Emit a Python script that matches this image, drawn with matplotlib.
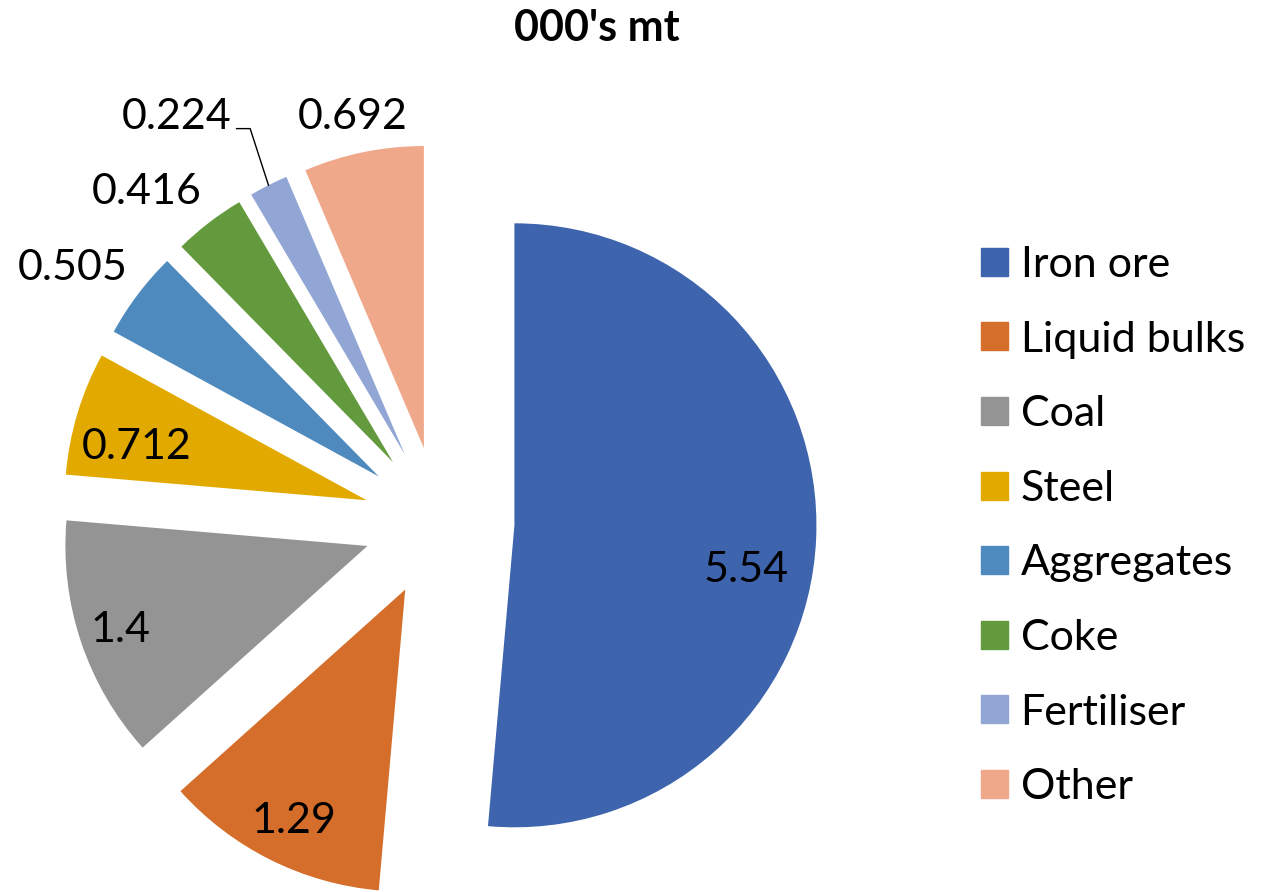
import matplotlib
matplotlib.use("Agg")
import matplotlib.pyplot as plt
import numpy as np

categories = ["Iron ore", "Liquid bulks", "Coal", "Steel", "Aggregates", "Coke", "Fertiliser", "Other"]
values = [5.54, 1.29, 1.4, 0.712, 0.505, 0.416, 0.224, 0.692]
value_labels = ["5.54", "1.29", "1.4", "0.712", "0.505", "0.416", "0.224", "0.692"]
title = "000's mt"

colors = ["#3D64AD", "#D46E2A", "#949494", "#E2AA00", "#4E8ABE", "#629A3D", "#91A6D4", "#F0A88A"]
# label placement: distance from pie centre (in radii) and angle tweak (deg)
label_dist = [1.03, 1.10, 1.115, 1.03, 1.475, 1.46, 1.60, 1.37]
label_dang = [-6.4, 0.7, 0.2, 2.8, 2.3, 4.0, 6.1, 0.5]

plt.rcParams['font.family'] = ['Lato', 'DejaVu Sans']
FS = 31

fig = plt.figure(figsize=(12.72, 8.92), dpi=100)
W, H = 1272, 892
R = 302.0
cx, cy = 439.0, 522.0
xmin, xmax = -cx / R, (W - cx) / R
ymin, ymax = -(H - cy) / R, cy / R
ax = fig.add_axes([0, 0, 1, 1])
ax.set_xlim(xmin, xmax)
ax.set_ylim(ymin, ymax)
ax.set_aspect('equal')
ax.axis('off')

explode = [0.25] * len(values)
wedges, _ = ax.pie(values, colors=colors, explode=explode, startangle=90, counterclock=False,
                   radius=1.0, center=(0, 0), wedgeprops=dict(linewidth=0))
ax.set_xlim(xmin, xmax)
ax.set_ylim(ymin, ymax)

for i, w in enumerate(wedges):
    mid = np.deg2rad((w.theta1 + w.theta2) / 2 + label_dang[i])
    x = label_dist[i] * np.cos(mid)
    y = label_dist[i] * np.sin(mid)
    ax.text(x, y, value_labels[i], ha='center', va='center', fontsize=FS, color='black')

# leader line for Fertiliser label
fw = wedges[6]
fmid = np.deg2rad((fw.theta1 + fw.theta2) / 2)
fc = fw.center
px = fc[0] + 1.0 * np.cos(fmid)
py = fc[1] + 1.0 * np.sin(fmid)
lmid = np.deg2rad((fw.theta1 + fw.theta2) / 2 + label_dang[6])
lx = label_dist[6] * np.cos(lmid) + 0.2
ly = label_dist[6] * np.sin(lmid) - 0.04
ax.plot([lx, lx + 0.045, px], [ly, ly, py], color='black', lw=1)

fig.text(597 / W, 1 - 28 / H, title, ha='center', va='center', fontsize=FS, fontweight='bold')

handles = [plt.Rectangle((0, 0), 1, 1, color=c) for c in colors]
leg = fig.legend(handles, categories, loc='upper left', bbox_to_anchor=(981 / W, 1 - 246 / H),
                 frameon=False, fontsize=FS, handlelength=0.62, handleheight=0.62,
                 handletextpad=0.3, labelspacing=0.85, borderaxespad=0, borderpad=0)

fig.savefig("out.png", dpi=100)
